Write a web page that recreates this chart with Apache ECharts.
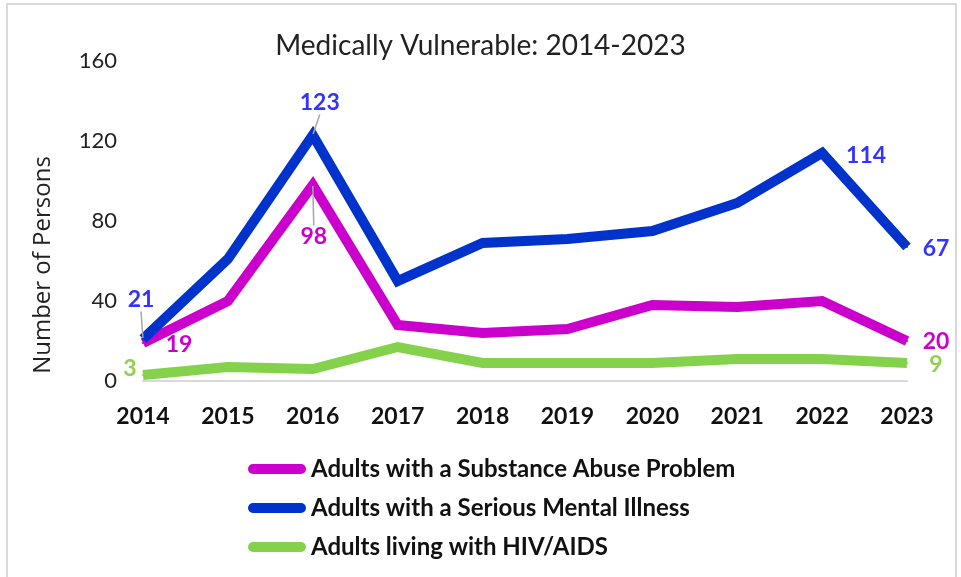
<!DOCTYPE html>
<html>
<head>
<meta charset="utf-8">
<script src="https://cdn.jsdelivr.net/npm/echarts@6/dist/echarts.min.js"></script>
<style>
html,body{margin:0;padding:0;background:#fff;}
#chart{width:961px;height:577px;}
</style>
</head>
<body>
<div id="chart"></div>
<script>
// ---- data ----
const years = ['2014','2015','2016','2017','2018','2019','2020','2021','2022','2023'];
const substanceAbuse = [19, 40, 98, 28, 24, 26, 38, 37, 40, 20];
const mentalIllness = [21, 61, 123, 50, 69, 71, 75, 89, 114, 67];
const hivAids = [3, 7, 6, 17, 9, 9, 9, 11, 11, 9];
const seriesNames = ['Adults with a Substance Abuse Problem', 'Adults with a Serious Mental Illness', 'Adults living with HIV/AIDS'];
const yTicks = [0, 40, 80, 120, 160];

// ---- styling / label placement (kept separate from data) ----
const lineColors = ['#CC00CC', '#0033CC', '#84D24C'];
const labelColors = ['#CC00CC', '#3333FF', '#92D050'];
// which points get a label: offset [dx, dy] of label centre from the point, leader flag
const labelPlacement = [
  {0: [36, 2, false], 2: [1, 52, true], 9: [29, 1, false]},
  {0: [-2, -39, true], 2: [7, -32, true], 8: [44, 3, false], 9: [29, 2, false]},
  {0: [-13, -6, false], 9: [29, 2, false]}
];
const seriesValues = [substanceAbuse, mentalIllness, hivAids];

const mainFont = "Lato, 'Open Sans', sans-serif";

const chart = echarts.init(document.getElementById('chart'));

const series = seriesValues.map((vals, s) => ({
  name: seriesNames[s],
  type: 'line',
  symbol: 'circle',
  symbolSize: 2,
  showSymbol: true,
  lineStyle: {width: 10, color: lineColors[s], join: 'miter'},
  itemStyle: {color: lineColors[s]},
  emphasis: {disabled: true},
  labelLine: {show: true, length2: 0, lineStyle: {color: '#a6a6a6', width: 1.5}},
  labelLayout: function (p) {
    const pl = labelPlacement[s][p.dataIndex];
    if (!pl) return {};
    const cx = p.rect.x + p.rect.width / 2;
    const cy = p.rect.y + p.rect.height / 2;
    return {x: cx + pl[0], y: cy + pl[1], align: 'center', verticalAlign: 'middle'};
  },
  data: vals.map((v, i) => {
    const pl = labelPlacement[s][i];
    return {
      value: v,
      label: {
        show: !!pl,
        position: 'inside',
        color: labelColors[s],
        fontFamily: mainFont,
        fontWeight: 'bold',
        fontSize: 23
      },
      labelLine: {show: !!(pl && pl[2])}
    };
  })
}));
// draw order: blue on top, then magenta, then green
series[1].z = 4; series[0].z = 3; series[2].z = 2;

chart.setOption({
  animation: false,
  backgroundColor: '#fff',
  title: {
    text: 'Medically Vulnerable: 2014-2023',
    left: 'center',
    top: 27,
    textStyle: {fontFamily: mainFont, fontWeight: 'normal', fontSize: 28, color: '#222'}
  },
  graphic: [{
    type: 'rect',
    shape: {x: 7, y: 4, width: 949, height: 590},
    style: {fill: 'none', stroke: '#d9d9d9', lineWidth: 2},
    silent: true, z: -1
  }],
  grid: {left: 143, right: 54, top: 61, bottom: 196},
  legend: {
    orient: 'vertical',
    left: 243,
    top: 451,
    itemWidth: 58,
    itemHeight: 10,
    itemGap: 13,
    icon: 'path://M5,0 H53 A5,5 0 0 1 53,10 H5 A5,5 0 0 1 5,0 Z',
    textStyle: {fontFamily: mainFont, fontWeight: 'bold', fontSize: 24, lineHeight: 26, color: '#111'},
    data: seriesNames
  },
  xAxis: {
    type: 'category',
    data: years,
    boundaryGap: false,
    axisLine: {lineStyle: {color: '#d9d9d9', width: 2}},
    axisTick: {show: false},
    axisLabel: {margin: 24, fontFamily: mainFont, fontWeight: 'bold', fontSize: 23, color: '#111'}
  },
  yAxis: {
    type: 'value',
    min: yTicks[0],
    max: yTicks[yTicks.length - 1],
    interval: yTicks[1] - yTicks[0],
    name: 'Number of Persons',
    nameLocation: 'middle',
    nameGap: 88,
    nameRotate: 90,
    nameTextStyle: {fontFamily: "'Open Sans', Lato, sans-serif", fontSize: 24, color: '#222', padding: [0, 88, 0, 0]},
    axisLine: {show: false},
    axisTick: {show: false},
    splitLine: {show: false},
    axisLabel: {margin: 26, fontFamily: mainFont, fontSize: 22, color: '#222'}
  },
  series: series
});
</script>
</body>
</html>
